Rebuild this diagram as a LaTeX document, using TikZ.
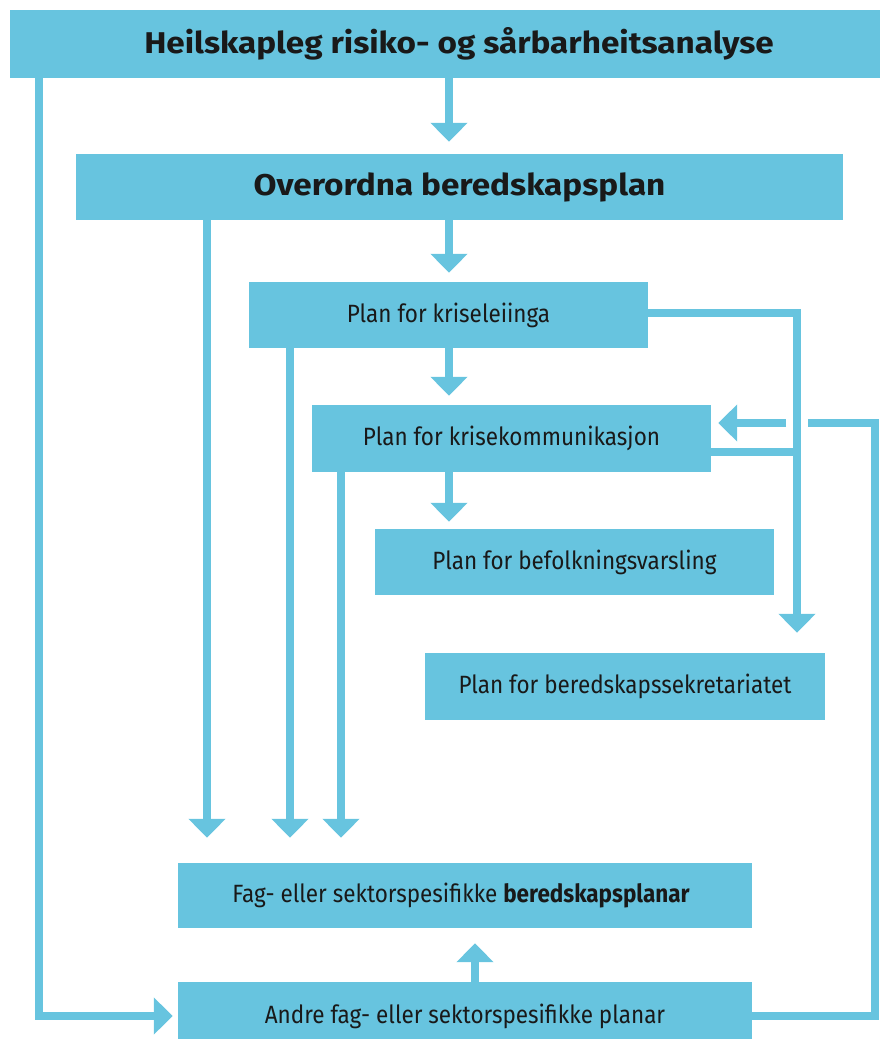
\documentclass[tikz,border=0pt]{standalone}
\usepackage{fontspec}
\setmainfont{Fira Sans}[FakeStretch=0.9]
\newfontfamily\widefont{Fira Sans}[FakeStretch=1.11]
\usetikzlibrary{arrows.meta}
\definecolor{bl}{RGB}{103,196,223}
\definecolor{tx}{RGB}{25,25,25}
\tikzset{
  box/.style={fill=bl, draw=none, inner sep=0pt, text=tx, font=\fontsize{25}{30}\selectfont},
  hbox/.style={box, font=\fontsize{30}{36}\widefont\bfseries},
  link/.style={draw=bl, line width=7.5pt, line join=miter},
  arr/.style={link, -{Triangle[width=36pt,length=19pt]}},
}
\begin{document}
\begin{tikzpicture}[x=1pt,y=-1pt]
\useasboundingbox (0,0) rectangle (894,1039);
% boxes
\node[hbox, minimum width=870pt, minimum height=68pt] (top) at (445,44) {\hspace*{28pt}Heilskapleg risiko- og sårbarheitsanalyse};
\node[hbox, minimum width=767pt, minimum height=66pt] (over) at (459.5,187) {Overordna beredskapsplan};
\node[box, minimum width=399pt, minimum height=66pt] (krise) at (448.5,315) {Plan for kriseleiinga};
\node[box, minimum width=399pt, minimum height=67pt] (kom) at (511.5,438.5) {Plan for krisekommunikasjon};
\node[box, minimum width=399pt, minimum height=66pt] (befolk) at (574.5,562) {Plan for befolkningsvarsling};
\node[box, minimum width=400pt, minimum height=67pt] (sekret) at (625,686.5) {Plan for beredskapssekretariatet};
\node[box, minimum width=574pt, minimum height=65pt] (fag) at (465,895.5) {Fag- eller sektorspesifikke \textbf{beredskapsplanar}\hspace*{8pt}};
\node[box, minimum width=574pt, minimum height=68pt] (andre) at (465,1016) {Andre fag- eller sektorspesifikke planar};
% x positions
\coordinate (xa) at (449,0);
\coordinate (xl) at (39,0);
\coordinate (xo) at (207,0);
\coordinate (xk) at (290,0);
\coordinate (xc) at (341,0);
\coordinate (xr) at (797,0);
\coordinate (xrr) at (875,0);
\coordinate (xu) at (475,0);
\coordinate (g1) at (808,423);
\coordinate (g2) at (786,423);
% spine
\draw[arr, shorten >=12pt] (top.south -| xa) -- (over.north -| xa);
\draw[arr, shorten >=9pt] (over.south -| xa) -- (krise.north -| xa);
\draw[arr, shorten >=9pt] (krise.south -| xa) -- (kom.north -| xa);
\draw[arr, shorten >=7pt] (kom.south -| xa) -- (befolk.north -| xa);
% down to fag
\draw[arr, shorten >=25pt] (over.south -| xo) -- (fag.north -| xo);
\draw[arr, shorten >=25pt] (krise.south -| xk) -- (fag.north -| xk);
\draw[arr, shorten >=25pt] (kom.south -| xc) -- (fag.north -| xc);
% right side
\draw[arr, shorten >=20pt] ([yshift=2pt]krise.east) -- ([yshift=2pt]krise.east -| xr) -- (sekret.north -| xr);
\draw[link] ([yshift=-13.5pt]kom.east) -- ([yshift=-13.5pt]kom.east -| xr);
\draw[link] (andre.east) -- (andre.east -| xrr) -- (xrr |- g1) -- (g1);
\draw[arr, shorten >=7pt] (g2) -- (kom.east |- g2);
% left loop
\draw[arr, shorten >=5pt] (top.south -| xl) -- (andre.west -| xl) -- (andre.west);
% andre to fag
\draw[arr, shorten >=15pt] (andre.north -| xu) -- (fag.south -| xu);
\end{tikzpicture}
\end{document}
